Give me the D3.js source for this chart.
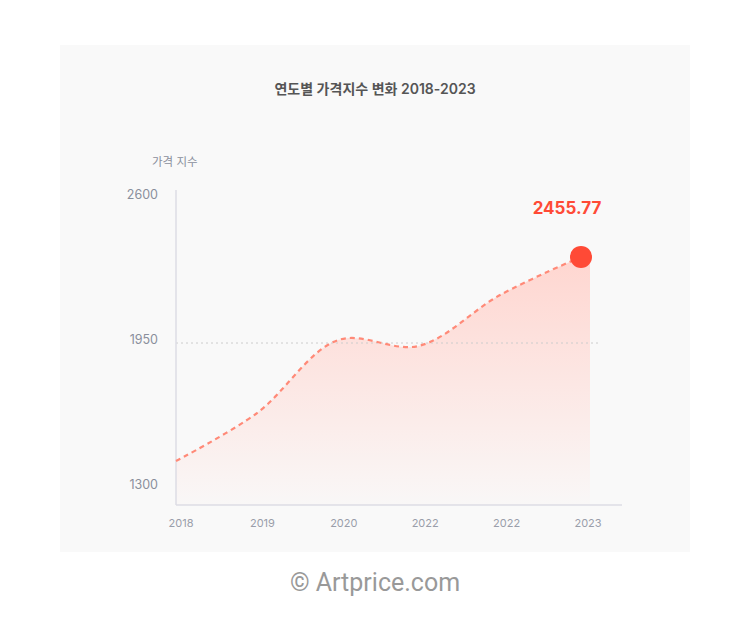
<!DOCTYPE html>
<html><head><meta charset="utf-8">
<script src="https://cdn.jsdelivr.net/npm/d3@7"></script>
<style>body{margin:0;background:#fff;font-family:Inter,"Noto Sans CJK KR",sans-serif}</style>
</head><body>
<svg id="c" width="750" height="642"></svg>
<script>
const categories = ["2018","2019","2020","2022","2022","2023"];
const values = [1421, 1636, 1963, 1937, 2165, 2336];
const yTicks = [1300, 1950, 2600];
const highlightLabel = "2455.77";

const svg = d3.select("#c");
const font = 'Inter,"Noto Sans CJK KR",sans-serif';
svg.append("rect").attr("x",60).attr("y",45).attr("width",630).attr("height",507).attr("fill","#f9f9f9");
svg.append("text").attr("x",375).attr("y",94).attr("text-anchor","middle").attr("font-size",14).attr("font-weight",600).attr("fill","#555").attr("font-family",font).text("연도별 가격지수 변화 2018-2023");
svg.append("text").attr("x",152).attr("y",166).attr("font-size",11.5).attr("fill","#8a8f9c").attr("font-family",font).text("가격 지수");

const x = d3.scalePoint().domain(d3.range(categories.length)).range([176,581]);
const y = d3.scaleLinear().domain([1300,2600]).range([488,198]);

const defs = svg.append("defs");
const g = defs.append("linearGradient").attr("id","gr").attr("x1",0).attr("y1",0).attr("x2",0).attr("y2",1);
g.append("stop").attr("offset","0%").attr("stop-color","#ffd6d0").attr("stop-opacity",1);
g.append("stop").attr("offset","100%").attr("stop-color","#ffd6d0").attr("stop-opacity",0.05);

const pts = values.map((v,i)=>[x(i),y(v)]);
const curve = d3.curveCatmullRom.alpha(0.5);
const area = d3.area().x(d=>d[0]).y0(505).y1(d=>d[1]).curve(curve);
svg.append("path").attr("d",area(pts)).attr("fill","url(#gr)");
svg.append("rect").attr("x",x(5)).attr("y",y(values[5])).attr("width",9).attr("height",505-y(values[5])).attr("fill","url(#gr)");

svg.append("line").attr("x1",176).attr("x2",600).attr("y1",y(1950)).attr("y2",y(1950)).attr("stroke","#ccc").attr("stroke-dasharray","2,3");
svg.append("line").attr("x1",176).attr("x2",176).attr("y1",190).attr("y2",505).attr("stroke","#dcdce4").attr("stroke-width",1.5);
svg.append("line").attr("x1",176).attr("x2",622).attr("y1",505).attr("y2",505).attr("stroke","#dcdce4").attr("stroke-width",1.5);

yTicks.forEach(t=>{
  svg.append("text").attr("x",158).attr("y",y(t)+1).attr("text-anchor","end").attr("font-size",12.5).attr("fill","#8a8f9c").attr("font-family",font).text(t);
});
categories.forEach((c,i)=>{
  svg.append("text").attr("x",x(i)+5+i*0.4).attr("y",527).attr("text-anchor","middle").attr("font-size",11).attr("fill","#9a9eaa").attr("font-family",font).text(c);
});

const line = d3.line().curve(curve);
svg.append("path").attr("d",line(pts)).attr("fill","none").attr("stroke","#ff8a78").attr("stroke-width",2.2).attr("stroke-dasharray","5,4");

svg.append("circle").attr("cx",x(5)).attr("cy",y(values[5])).attr("r",11).attr("fill","#ff4a36");
svg.append("text").attr("x",567).attr("y",214).attr("text-anchor","middle").attr("font-size",17).attr("font-weight",700).attr("fill","#ff4a36").attr("font-family",font).text(highlightLabel);

svg.append("text").attr("x",375).attr("y",591).attr("text-anchor","middle").attr("font-size",25).attr("fill","#999").attr("font-family",'Roboto,sans-serif').text("© Artprice.com");
</script>
</body></html>
